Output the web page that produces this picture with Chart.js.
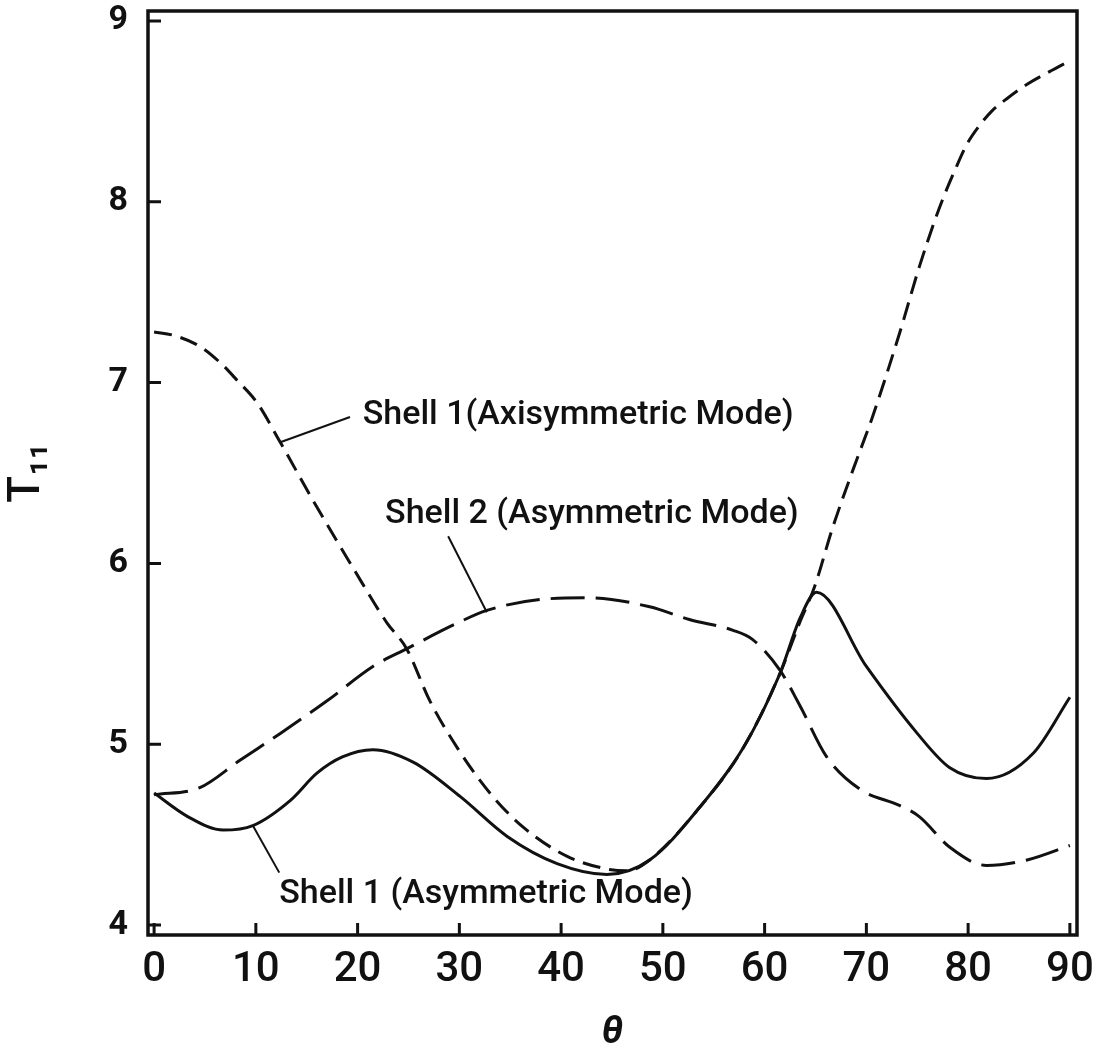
<!DOCTYPE html>
<html>
<head>
<meta charset="utf-8">
<title>T11 vs theta</title>
<script src="https://cdn.jsdelivr.net/npm/chart.js@4.4.1/dist/chart.umd.min.js"></script>
<style>
  html, body { margin: 0; padding: 0; background: #fff; }
</style>
</head>
<body>
<canvas id="chart" width="1099" height="1053"></canvas>
<script>
// Axis ticks
const thetaTicks = [0, 10, 20, 30, 40, 50, 60, 70, 80, 90];
const tTicks = [4, 5, 6, 7, 8, 9];

// Shell 1, asymmetric mode (solid)
const shell1AsymTheta = [0, 3.3, 6.8, 9.7, 13.4, 16, 18.5, 21.5, 25.5, 30.1, 34.7, 39.6, 44.5, 48.7, 53.6, 57.9, 61.5, 63.5, 65.1, 70, 75, 78.2, 81.8, 86.4, 90];
const shell1AsymT = [4.73, 4.60, 4.525, 4.55, 4.69, 4.84, 4.93, 4.97, 4.90, 4.71, 4.49, 4.34, 4.28, 4.36, 4.65, 4.98, 5.39, 5.70, 5.84, 5.43, 5.06, 4.87, 4.81, 4.95, 5.26];

// Shell 1, axisymmetric mode (short dashes)
const shell1AxiTheta = [0, 2, 4.5, 6.5, 8.2, 10.1, 12.4, 15.6, 19.5, 22.9, 24.8, 27.1, 29.8, 33, 36.3, 40.6, 44.5, 46.5, 48.7, 53.6, 57.9, 61.5, 63.5, 64.9, 66.7, 68.7, 70.6, 73.3, 75.2, 77.2, 78.9, 79.9, 81.1, 82.3, 83.8, 85.8, 88, 90];
const shell1AxiT = [7.28, 7.26, 7.20, 7.11, 7.01, 6.89, 6.67, 6.35, 5.98, 5.67, 5.53, 5.24, 4.98, 4.73, 4.54, 4.38, 4.31, 4.30, 4.36, 4.65, 4.98, 5.39, 5.68, 5.87, 6.20, 6.52, 6.81, 7.28, 7.64, 7.97, 8.20, 8.32, 8.42, 8.50, 8.57, 8.65, 8.72, 8.78];

// Shell 2, asymmetric mode (long dashes)
const shell2AsymTheta = [0, 4.5, 8.4, 12.4, 17, 21.5, 24.9, 29.8, 32.7, 37.9, 42.8, 48.7, 52.6, 56.9, 58.8, 61.5, 63.5, 66.1, 69.4, 73.3, 75.2, 78.2, 81.8, 85.8, 90];
const shell2AsymT = [4.72, 4.76, 4.91, 5.06, 5.24, 5.43, 5.53, 5.67, 5.74, 5.80, 5.81, 5.76, 5.69, 5.63, 5.58, 5.41, 5.21, 4.93, 4.75, 4.66, 4.60, 4.43, 4.33, 4.36, 4.44];

const ink = '#111';
const letterFont = 'Roboto, "DejaVu Sans", sans-serif';

const toPoints = (xs, ys) => xs.map((x, i) => ({ x, y: ys[i] }));

// Curve labels with leader lines, in data coordinates
const notes = [
  { text: 'Shell 1(Axisymmetric Mode)', at: [20.5, 6.82], from: [19.25, 6.81], to: [12.4, 6.67] },
  { text: 'Shell 2 (Asymmetric Mode)', at: [22.7, 6.27], from: [28.9, 6.15], to: [32.7, 5.73] },
  { text: 'Shell 1 (Asymmetric Mode)', at: [12.3, 4.17], from: [12.3, 4.29], to: [9.7, 4.55] },
];

const frameAndTicks = {
  id: 'frameAndTicks',
  afterDraw(chart) {
    const { ctx, chartArea: a, scales: { x, y } } = chart;
    ctx.save();
    ctx.strokeStyle = ink;
    ctx.lineWidth = 3.5;
    ctx.strokeRect(a.left, a.top, a.right - a.left, a.bottom - a.top);

    // inward tick marks
    ctx.lineWidth = 3;
    ctx.beginPath();
    thetaTicks.forEach(v => {
      const px = x.getPixelForValue(v);
      ctx.moveTo(px, a.bottom);
      ctx.lineTo(px, a.bottom - 12);
    });
    tTicks.forEach(v => {
      const py = y.getPixelForValue(v);
      ctx.moveTo(a.left, py);
      ctx.lineTo(a.left + 13, py);
    });
    ctx.stroke();

    // labels and leaders
    ctx.lineWidth = 2;
    ctx.fillStyle = ink;
    ctx.font = `500 34px ${letterFont}`;
    ctx.textAlign = 'left';
    ctx.textBaseline = 'middle';
    notes.forEach(n => {
      ctx.beginPath();
      ctx.moveTo(x.getPixelForValue(n.from[0]), y.getPixelForValue(n.from[1]));
      ctx.lineTo(x.getPixelForValue(n.to[0]), y.getPixelForValue(n.to[1]));
      ctx.stroke();
      ctx.fillText(n.text, x.getPixelForValue(n.at[0]), y.getPixelForValue(n.at[1]));
    });
    ctx.restore();
  }
};

const lineStyle = (dash) => ({
  borderColor: ink,
  borderWidth: 3,
  borderDash: dash,
  pointRadius: 0,
  fill: false,
  cubicInterpolationMode: 'monotone',
});

new Chart(document.getElementById('chart'), {
  type: 'line',
  data: {
    datasets: [
      { label: 'Shell 1 (Asymmetric Mode)', data: toPoints(shell1AsymTheta, shell1AsymT), ...lineStyle([]) },
      { label: 'Shell 2 (Asymmetric Mode)', data: toPoints(shell2AsymTheta, shell2AsymT), ...lineStyle([34, 11]) },
      { label: 'Shell 1 (Axisymmetric Mode)', data: toPoints(shell1AxiTheta, shell1AxiT), ...lineStyle([18, 9]) },
    ]
  },
  options: {
    responsive: false,
    animation: false,
    devicePixelRatio: 1,
    layout: { padding: { top: 11, right: 22, left: 0, bottom: 0 } },
    plugins: { legend: { display: false }, tooltip: { enabled: false } },
    scales: {
      x: {
        type: 'linear',
        min: -0.6,
        max: 90.7,
        afterBuildTicks: (scale) => { scale.ticks = thetaTicks.map(value => ({ value })); },
        afterFit: (scale) => { scale.height = 118; scale.paddingLeft = 0; scale.paddingRight = 0; },
        grid: { display: false, drawTicks: false },
        border: { display: false },
        ticks: { color: ink, padding: 14, maxRotation: 0, autoSkip: false, font: { family: letterFont, size: 42, weight: '500', lineHeight: 1 } },
        title: { display: true, text: 'θ', color: ink, padding: { top: 0, bottom: 1 }, font: { family: letterFont, size: 38, weight: 'bold', style: 'italic', lineHeight: 1 } },
      },
      y: {
        type: 'linear',
        min: 3.945,
        max: 9.055,
        afterBuildTicks: (scale) => { scale.ticks = tTicks.map(value => ({ value })); },
        afterFit: (scale) => { scale.width = 148; scale.paddingTop = 0; scale.paddingBottom = 0; },
        grid: { display: false, drawTicks: false },
        border: { display: false },
        ticks: { color: ink, padding: 20, autoSkip: false, font: { family: letterFont, size: 34, weight: 'bold', lineHeight: 1 } },
        title: { display: true, text: 'T₁₁', color: ink, padding: { top: 6, bottom: 0 }, font: { family: letterFont, size: 44, weight: '500', lineHeight: 1 } },
      }
    }
  },
  plugins: [frameAndTicks]
});
</script>
</body>
</html>
